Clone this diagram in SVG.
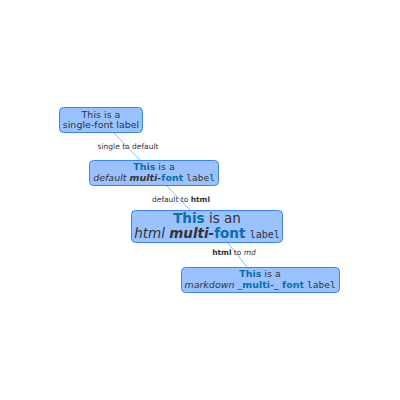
<svg xmlns="http://www.w3.org/2000/svg" width="400" height="400" viewBox="0 0 400 400">
<style>
.node rect{fill:#99c2ff;stroke:#3b82f6;stroke-width:1}
text{font-family:"DejaVu Sans",sans-serif;fill:#333;text-anchor:middle}
.b{font-weight:bold;fill:#0b6ea6}
.i{font-style:italic}
.bi{font-style:italic;font-weight:bold}
.m{font-family:"DejaVu Sans Mono",monospace}
.edge line{stroke:#6fa8e8;stroke-width:0.8}
.el{font-size:7.5px}
</style>
<g id="connectors" class="edge">
<line x1="113" y1="132" x2="140" y2="160"/>
<line x1="167" y1="186" x2="190" y2="210"/>
<line x1="228" y1="243" x2="247" y2="267"/>
</g>
<g id="edge-labels">
<text class="el" x="128" y="149">single to default</text>
<text class="el" x="181" y="202">default to <tspan font-weight="bold">html</tspan></text>
<text class="el" x="234" y="255"><tspan font-weight="bold">html</tspan> to <tspan class="i">md</tspan></text>
</g>
<g id="node1" class="node">
<rect x="59.500" y="107.500" width="83" height="25" rx="4"/>
<text font-size="9.500" x="101" y="118">This is a</text>
<text font-size="9.500" x="101" y="128">single-font label</text>
</g>
<g id="node2" class="node">
<rect x="89.500" y="160.500" width="129" height="25" rx="4"/>
<text font-size="9.500" x="154" y="170"><tspan class="b">This</tspan> is a</text>
<text font-size="9.500" x="154" y="181"><tspan class="i">default</tspan> <tspan class="bi">multi-</tspan><tspan class="b">font</tspan> <tspan class="m">label</tspan></text>
</g>
<g id="node3" class="node">
<rect x="131.500" y="210.500" width="151" height="32" rx="4"/>
<text font-size="13.500" x="207" y="223"><tspan class="b">This</tspan> is an</text>
<text font-size="13.500" x="207" y="238"><tspan class="i">html</tspan> <tspan class="bi">multi-</tspan><tspan class="b">font</tspan> <tspan class="m" font-size="10">label</tspan></text>
</g>
<g id="node4" class="node">
<rect x="181.500" y="267.500" width="158" height="25" rx="4"/>
<text font-size="9.500" x="260" y="277"><tspan class="b">This</tspan> is a</text>
<text font-size="9.500" x="260" y="288"><tspan class="i">markdown</tspan> <tspan class="b">_multi-_ font</tspan> <tspan class="m">label</tspan></text>
</g>
</svg>
